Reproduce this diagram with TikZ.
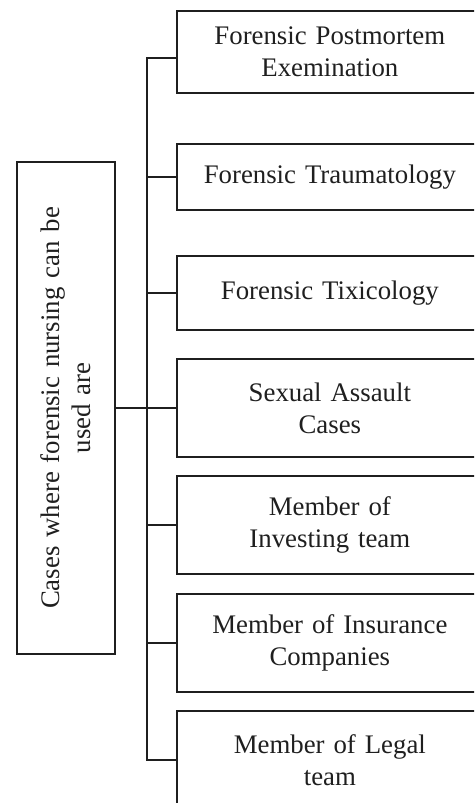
\documentclass[tikz,border=0pt]{standalone}
\usepackage{fontspec}
\setmainfont{Liberation Serif}
\begin{document}
\begin{tikzpicture}[x=1pt,y=-1pt,line width=1.7pt,color=black!88,
        item/.style={draw, anchor=north west, minimum width=306pt, text width=290pt,
            align=center, inner sep=0pt, font=\fontsize{26.8}{32}\selectfont},
        root/.style={draw, rotate=90, minimum width=492pt, minimum height=98pt,
            text width=470pt, align=center, inner sep=0pt, font=\fontsize{26.8}{31}\selectfont}]
        \useasboundingbox (0,0) rectangle (474,803);
        \clip (0,0) rectangle (474,803);
        % Root box
        \node[root] (cases) at (66,408) {Cases where forensic nursing can be\\used are};
        % Branch boxes
        \node[item, minimum height=82pt] (b1) at (176,10) {Forensic Postmortem\\Exemination};
        \node[item, minimum height=66pt] (b2) at (176,143) {Forensic Traumatology};
        \node[item, minimum height=74pt] (b3) at (176,255) {Forensic Tixicology};
        \node[item, minimum height=98pt] (b4) at (176,358) {Sexual Assault\\Cases};
        \node[item, minimum height=98pt] (b5) at (176,475) {Member of\\Investing team};
        \node[item, minimum height=98pt] (b6) at (176,593) {Member of Insurance\\Companies};
        \node[item, minimum height=98pt] (b7) at (176,710) {Member of Legal\\team};
        % Trunk and branches
        \coordinate (top) at (147,57);
        \draw (cases.south) -- (cases.south -| top);
        \draw ([yshift=-6pt]b1.west) -| (top) -- (top |- b7.west) -- (b7.west);
        \foreach \i in {2,...,6} {
                \draw (b\i.west) -- (b\i.west -| top);
            }
\end{tikzpicture}
\end{document}
